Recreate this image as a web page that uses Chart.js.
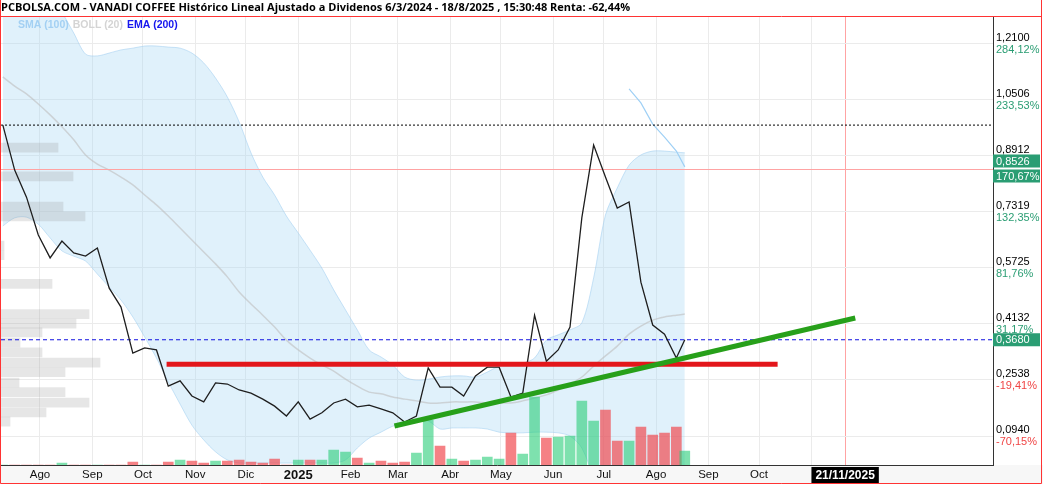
<!DOCTYPE html>
<html lang="es">
<head>
<meta charset="utf-8">
<title>VANADI COFFEE - Histórico</title>
<script src="https://cdn.jsdelivr.net/npm/chart.js@4.4.1/dist/chart.umd.min.js"></script>
<style>
  html, body { margin: 0; padding: 0; background: #fff; }
  canvas { display: block; }
</style>
</head>
<body>
<canvas id="grafico" width="1043" height="484"></canvas>
<script>
// Cierres semanales (miércoles) + último dato del 18/8/2025
const fechas = [
    '2024-07-10', '2024-07-17', '2024-07-24', '2024-07-31', '2024-08-07', '2024-08-14', '2024-08-21', '2024-08-28',
    '2024-09-04', '2024-09-11', '2024-09-18', '2024-09-25', '2024-10-02', '2024-10-09', '2024-10-16', '2024-10-23',
    '2024-10-30', '2024-11-06', '2024-11-13', '2024-11-20', '2024-11-27', '2024-12-04', '2024-12-11', '2024-12-18',
    '2024-12-25', '2025-01-01', '2025-01-08', '2025-01-15', '2025-01-22', '2025-01-29', '2025-02-05', '2025-02-12',
    '2025-02-19', '2025-02-26', '2025-03-05', '2025-03-12', '2025-03-19', '2025-03-26', '2025-04-02', '2025-04-09',
    '2025-04-16', '2025-04-23', '2025-04-30', '2025-05-07', '2025-05-14', '2025-05-21', '2025-05-28', '2025-06-04',
    '2025-06-11', '2025-06-18', '2025-06-25', '2025-07-02', '2025-07-09', '2025-07-16', '2025-07-23', '2025-07-30',
    '2025-08-06', '2025-08-13', '2025-08-18'
];
const precio = [
    0.979, 0.851, 0.774, 0.666, 0.601, 0.649, 0.615, 0.606, 0.629, 0.515,
    0.461, 0.330, 0.345, 0.339, 0.236, 0.251, 0.208, 0.191, 0.245, 0.242,
    0.225, 0.216, 0.199, 0.179, 0.151, 0.191, 0.142, 0.160, 0.188, 0.199,
    0.177, 0.182, 0.171, 0.160, 0.134, 0.151, 0.288, 0.233, 0.233, 0.208,
    0.265, 0.290, 0.290, 0.205, 0.216, 0.438, 0.307, 0.339, 0.404, 0.715,
    0.922, 0.831, 0.743, 0.760, 0.532, 0.410, 0.384, 0.316, 0.368
];
const bollSup = [
    1.449, 1.435, 1.415, 1.392, 1.358, 1.301, 1.241, 1.181, 1.176, 1.184,
    1.193, 1.198, 1.204, 1.204, 1.201, 1.198, 1.184, 1.156, 1.113, 1.059,
    0.988, 0.900, 0.831, 0.780, 0.720, 0.672, 0.623, 0.572, 0.510, 0.453,
    0.396, 0.339, 0.319, 0.296, 0.262, 0.253, 0.256, 0.262, 0.265, 0.265,
    0.262, 0.276, 0.293, 0.299, 0.302, 0.316, 0.367, 0.382, 0.396, 0.416,
    0.544, 0.723, 0.800, 0.865, 0.894, 0.905, 0.905, 0.902, 0.900
];
const bollInf = [
    0.692, 0.715, 0.717, 0.697, 0.658, 0.621, 0.606, 0.592, 0.555, 0.518,
    0.481, 0.433, 0.376, 0.316, 0.248, 0.185, 0.125, 0.083, 0.049, 0.026,
    0.017, 0.017, 0.017, 0.017, 0.017, 0.017, 0.017, 0.017, 0.017, 0.026,
    0.060, 0.088, 0.105, 0.122, 0.131, 0.137, 0.137, 0.114, 0.117, 0.117,
    0.117, 0.114, 0.105, 0.103, 0.103, 0.105, 0.105, 0.103, 0.094, 0.060,
    -0.026, -0.145, -0.145, -0.145, -0.145, -0.145, -0.145, -0.145, -0.145
];
const mediaLenta = [
    1.116, 1.090, 1.068, 1.039, 1.008, 0.974, 0.937, 0.894, 0.868, 0.851,
    0.831, 0.809, 0.780, 0.752, 0.720, 0.686, 0.652, 0.618, 0.584, 0.547,
    0.504, 0.470, 0.438, 0.404, 0.367, 0.339, 0.316, 0.296, 0.279, 0.256,
    0.236, 0.219, 0.214, 0.205, 0.199, 0.194, 0.188, 0.188, 0.191, 0.191,
    0.191, 0.188, 0.188, 0.188, 0.194, 0.202, 0.211, 0.225, 0.242, 0.262,
    0.293, 0.322, 0.350, 0.384, 0.407, 0.424, 0.433, 0.438, 0.441
];
const sma100 = [
    null, null, null, null, null, null, null, null, null, null,
    null, null, null, null, null, null, null, null, null, null,
    null, null, null, null, null, null, null, null, null, null,
    null, null, null, null, null, null, null, null, null, null,
    null, null, null, null, null, null, null, null, null, null,
    null, null, null, 1.082, 1.042, 0.982, 0.945, 0.905, 0.860
];
const volumen = [
    0, 0, 0, 0, 0, 2, 0, 0, 0, 0,
    0, 3, 0, 0, 3, 5, 4, 2, 4, 4,
    5, 3, 2, 6, 0, 5, 5, 5, 15, 13,
    7, 2, 4, 2, 3, 12, 45, 19, 6, 4,
    5, 8, 6, 32, 11, 68, 27, 28, 29, 64,
    44, 55, 24, 24, 38, 30, 32, 38, 14
];

// Perfil de volumen por precio (barras grises a la izquierda)
const perfilPrecio = [0.915, 0.833, 0.747, 0.719, 0.636, 0.609, 0.527, 0.441, 0.414, 0.389,
                      0.360, 0.332, 0.303, 0.276, 0.246, 0.219, 0.189, 0.161, 0.135];
const perfilVolumen = [57, 72, 62, 84, 3, 3, 51, 88, 75, 41,
                       19, 41, 99, 64, 18, 64, 88, 45, 9];

// Líneas dibujadas a mano
const soporteFechas = ['2024-10-15', '2025-10-12'];
const soportePrecios = [0.298, 0.298];
const tendenciaFechas = ['2025-02-27', '2025-11-27'];
const tendenciaPrecios = [0.1225, 0.430];
const precioInicial = 0.979;
const precioActual = 0.368;
const precioMarca = 0.8526;
const textoPrecioActual = '0,3680';
const textoPrecioMarca = '0,8526';
const textoRentaMarca = '170,67%';
const fechaMarcada = '2025-11-21';

// Ejes
const ejeYValores = [0.0940, 0.2538, 0.4132, 0.5725, 0.7319, 0.8912, 1.0506, 1.2100];
const ejeYPrecios = ['0,0940', '0,2538', '0,4132', '0,5725', '0,7319', '0,8912', '1,0506', '1,2100'];
const ejeYRentas = ['-70,15%', '-19,41%', '31,17%', '81,76%', '132,35%', '182,91%', '233,53%', '284,12%'];
const ejeXFechas = [
    '2024-08-01', '2024-09-01', '2024-10-01', '2024-11-01', '2024-12-01', '2025-01-01', '2025-02-01', '2025-03-01',
    '2025-04-01', '2025-05-01', '2025-06-01', '2025-07-01', '2025-08-01', '2025-09-01', '2025-10-01', '2025-11-01',
    '2025-11-21'
];
const ejeXEtiquetas = ['Ago', 'Sep', 'Oct', 'Nov', 'Dic', '2025', 'Feb', 'Mar',
                      'Abr', 'May', 'Jun', 'Jul', 'Ago', 'Sep', 'Oct', '', '21/11/2025'];
const leyendaTextos = ['SMA (100)', 'BOLL (20)', 'EMA (200)'];
const leyendaColores = ['#a3d0f3', '#d4d4d4', '#1616ee'];

const titulo = 'PCBOLSA.COM - VANADI COFFEE Histórico Lineal Ajustado a Dividenos 6/3/2024 - 18/8/2025 , 15:30:48 Renta: -62,44%';

// Fechas a número de días
function dia(f) {
    const [a, m, d] = f.split('-').map(Number);
    return Date.UTC(a, m - 1, d) / 86400000;
}
const diaMarcado = dia(fechaMarcada);
const X_MIN = dia('2024-08-01') - 23.1;
const X_MAX = dia('2024-08-01') + 564.6;
const Y_MIN = 0.0115;
const Y_MAX = 1.2881;

const FUENTE = '"Liberation Sans", Arial, sans-serif';
const VERDE = '#2a9d73';
const ROJO = '#f04545';
const ROSA = '#ffa3a3';

const serie = valores => fechas.map((f, i) => ({ x: dia(f), y: valores[i] }));
const horizontal = v => [{ x: X_MIN, y: v }, { x: X_MAX, y: v }];

const coloresVolumen = volumen.map((v, i) =>
    i === 0 || precio[i] >= precio[i - 1] ? 'rgba(40,205,120,0.6)' : 'rgba(240,70,75,0.68)');

// Plugin: fondo, leyenda, rentabilidades, etiquetas de precio y marco
const decoracion = {
    id: 'decoracion',
    beforeDraw(chart) {
        const { ctx, chartArea } = chart;
        ctx.save();
        ctx.fillStyle = '#fff';
        ctx.fillRect(0, 0, chart.width, chart.height);
        ctx.fillStyle = '#f7f7f7';
        ctx.fillRect(0, chartArea.bottom, chart.width, chart.height - chartArea.bottom);
        ctx.restore();
    },
    afterDraw(chart) {
        const { ctx, chartArea, scales } = chart;
        const y = scales.y;
        ctx.save();
        ctx.textBaseline = 'middle';

        // leyenda
        ctx.font = 'bold 10.5px ' + FUENTE;
        let x = 18;
        leyendaTextos.forEach((t, i) => {
            ctx.fillStyle = leyendaColores[i];
            ctx.fillText(t, x, 25);
            x += ctx.measureText(t).width + 4;
        });

        // rentabilidad bajo cada precio del eje
        ctx.font = '11px ' + FUENTE;
        ejeYValores.forEach((v, i) => {
            ctx.fillStyle = ejeYRentas[i].startsWith('-') ? ROJO : VERDE;
            ctx.fillText(ejeYRentas[i], chartArea.right + 3, y.getPixelForValue(v) + 6);
        });

        // etiquetas verdes del eje derecho
        const etiqueta = (txt, top, alto) => {
            ctx.fillStyle = VERDE;
            ctx.fillRect(chartArea.right, top, 47, alto);
            ctx.fillStyle = '#fff';
            ctx.fillText(txt, chartArea.right + 3, top + alto / 2 + 0.5);
        };
        const pm = y.getPixelForValue(precioMarca);
        etiqueta(textoPrecioMarca, pm - 15, 13);
        etiqueta(textoRentaMarca, pm, 13);
        const pa = y.getPixelForValue(precioActual);
        etiqueta(textoPrecioActual, pa - 6.5, 13);

        // marco rojo
        ctx.strokeStyle = '#ff3333';
        ctx.lineWidth = 1;
        ctx.beginPath();
        ctx.moveTo(0.5, 0);
        ctx.lineTo(0.5, 483.5);
        ctx.lineTo(1041.5, 483.5);
        ctx.lineTo(1041.5, 0);
        ctx.moveTo(0, 16.5);
        ctx.lineTo(1042, 16.5);
        ctx.stroke();
        ctx.restore();
    }
};

const linea = (datos, color, ancho, extra) => Object.assign({
    type: 'line',
    data: datos,
    borderColor: color,
    borderWidth: ancho,
    pointRadius: 0,
    tension: 0,
    fill: false,
    xAxisID: 'x',
    yAxisID: 'y'
}, extra || {});

new Chart(document.getElementById('grafico'), {
    type: 'line',
    data: {
        datasets: [
            linea(serie(bollSup), 'rgba(160,205,240,0.55)', 1,
                { fill: '+1', backgroundColor: 'rgba(170,215,245,0.36)', tension: 0.3, order: 20 }),
            linea(serie(bollInf), 'rgba(160,205,240,0.55)', 1, { tension: 0.3, order: 21 }),
            linea(serie(mediaLenta), 'rgba(190,190,190,0.6)', 1.5, { tension: 0.3, order: 15 }),
            {
                type: 'bar',
                indexAxis: 'y',
                xAxisID: 'xProf',
                yAxisID: 'y',
                data: perfilPrecio.map((p, i) => ({ x: perfilVolumen[i], y: p })),
                backgroundColor: 'rgba(150,150,150,0.24)',
                barThickness: 9,
                grouped: false,
                order: 12
            },
            {
                type: 'bar',
                xAxisID: 'x',
                yAxisID: 'yVol',
                data: serie(volumen),
                backgroundColor: coloresVolumen,
                barThickness: 10,
                grouped: false,
                order: 11
            },
            linea(serie(sma100), '#9fd0f5', 1.2, { order: 8 }),
            linea(horizontal(precioInicial), '#000', 1, { borderDash: [2, 2], order: 7 }),
            linea(horizontal(precioMarca), ROSA, 1, { order: 7 }),
            linea(horizontal(precioActual), '#1010e0', 1, { borderDash: [4, 3], order: 7 }),
            linea(serie(precio), '#1e1e1e', 1.3, { order: 5 }),
            linea(soporteFechas.map((f, i) => ({ x: dia(f), y: soportePrecios[i] })), '#e3161b', 5, { order: 3 }),
            linea(tendenciaFechas.map((f, i) => ({ x: dia(f), y: tendenciaPrecios[i] })), '#27a01a', 5, { order: 2 })
        ]
    },
    options: {
        responsive: false,
        animation: false,
        devicePixelRatio: 1,
        events: [],
        layout: { padding: { left: 1, right: 2, top: 0, bottom: 0 } },
        plugins: {
            legend: { display: false },
            tooltip: { enabled: false },
            title: {
                display: true,
                text: titulo,
                align: 'start',
                color: '#000',
                font: { family: '"Open Sans", sans-serif', size: 11, weight: 'bold', lineHeight: 1 },
                padding: { top: 2, bottom: 3.5 }
            }
        },
        scales: {
            x: {
                type: 'linear',
                offset: false,
                min: X_MIN,
                max: X_MAX,
                afterBuildTicks: s => { s.ticks = ejeXFechas.map(f => ({ value: dia(f) })); },
                afterFit: s => { s.height = 19; },
                grid: {
                    offset: false,
                    drawTicks: false,
                    color: c => (c.tick && c.tick.value === diaMarcado) ? ROSA : '#ebebeb'
                },
                border: { display: true, color: '#333' },
                ticks: {
                    autoSkip: false,
                    maxRotation: 0,
                    padding: 3,
                    callback: v => ejeXEtiquetas[ejeXFechas.findIndex(f => dia(f) === v)],
                    color: c => (c.tick && c.tick.value === diaMarcado) ? '#fff' : '#111',
                    font: c => {
                        if (c.tick && c.tick.label === '2025') return { family: FUENTE, size: 13, weight: 'bold' };
                        if (c.tick && c.tick.value === diaMarcado) return { family: FUENTE, size: 12, weight: 'bold' };
                        return { family: FUENTE, size: 11.5 };
                    },
                    showLabelBackdrop: c => !!(c.tick && c.tick.value === diaMarcado),
                    backdropColor: '#000',
                    backdropPadding: { x: 4, y: 1 }
                }
            },
            xProf: {
                type: 'linear',
                axis: 'x',
                display: false,
                offset: false,
                min: 0,
                max: 992
            },
            y: {
                type: 'linear',
                position: 'right',
                offset: false,
                min: Y_MIN,
                max: Y_MAX,
                afterBuildTicks: s => { s.ticks = ejeYValores.map(v => ({ value: v })); },
                afterFit: s => { s.width = 48; },
                grid: { offset: false, drawTicks: false, color: '#ebebeb' },
                border: { display: true, color: '#333' },
                ticks: {
                    autoSkip: false,
                    padding: 3,
                    labelOffset: -6,
                    color: '#000',
                    font: { family: FUENTE, size: 11 },
                    callback: (v, i) => ejeYPrecios[i]
                }
            },
            yVol: {
                type: 'linear',
                display: false,
                offset: false,
                min: 0,
                max: 449
            }
        }
    },
    plugins: [decoracion]
});
</script>
</body>
</html>
